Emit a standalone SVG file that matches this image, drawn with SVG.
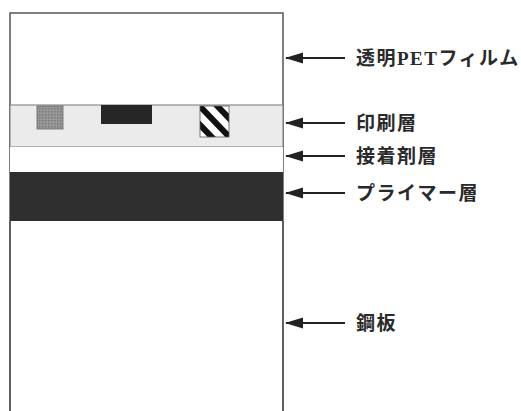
<svg xmlns="http://www.w3.org/2000/svg" width="521" height="411" viewBox="0 0 521 411">
<style>
.lbl{font-family:"Liberation Serif","Noto Sans CJK JP",serif;font-size:19px;font-weight:bold;fill:#2a2a2a;letter-spacing:1.5px;}
.arr{stroke:#222;stroke-width:2;fill:none;}
</style>
<defs>
<marker id="ah" markerWidth="18" markerHeight="12" refX="17" refY="6" orient="auto" markerUnits="userSpaceOnUse">
<path d="M0,0.5 L18,6 L0,11.5 Z" fill="#222"/>
</marker>
<pattern id="dots" width="3" height="3" patternUnits="userSpaceOnUse">
<rect width="3" height="3" fill="#999"/>
<rect width="1.5" height="1.5" fill="#777"/>
</pattern>
<clipPath id="sq"><rect x="200" y="106" width="29" height="31"/></clipPath>
</defs>
<rect width="521" height="411" fill="#fff"/>
<g id="pet">
<rect x="10" y="13" width="273" height="420" fill="#fff" stroke="#555" stroke-width="1.5"/>
</g>
<g id="print-layer">
<rect x="10" y="105" width="273" height="42" fill="#ebebeb" stroke="#777" stroke-width="1"/>
<rect x="37" y="106" width="26" height="23" fill="url(#dots)" stroke="#666" stroke-width="0.8"/>
<rect x="101" y="105" width="51" height="19" fill="#262626"/>
<g clip-path="url(#sq)">
<rect x="200" y="106" width="29" height="31" fill="#fff"/>
<path d="M190,96 L239,147 M200,88 L249,139 M180,104 L229,155" stroke="#111" stroke-width="6"/>
</g>
<rect x="200" y="106" width="29" height="31" fill="none" stroke="#555" stroke-width="0.8"/>
</g>
<g id="adhesive-layer">
<rect x="10" y="147" width="273" height="25" fill="#fff"/>
</g>
<g id="primer-layer">
<rect x="10" y="172" width="273" height="49" fill="#2f2f2f"/>
</g>
<g id="steel">
<line x1="10" y1="221" x2="10" y2="411" stroke="#555" stroke-width="1.5"/>
<line x1="283" y1="221" x2="283" y2="411" stroke="#555" stroke-width="1.5"/>
</g>
<g id="connectors">
<line class="arr" x1="345" y1="58" x2="286" y2="58" marker-end="url(#ah)"/>
<line class="arr" x1="345" y1="123" x2="286" y2="123" marker-end="url(#ah)"/>
<line class="arr" x1="345" y1="156" x2="286" y2="156" marker-end="url(#ah)"/>
<line class="arr" x1="345" y1="193" x2="286" y2="193" marker-end="url(#ah)"/>
<line class="arr" x1="345" y1="323" x2="286" y2="323" marker-end="url(#ah)"/>
</g>
<g id="labels">
<text class="lbl" x="356" y="65">透明PETフィルム</text>
<text class="lbl" x="356" y="130">印刷層</text>
<text class="lbl" x="356" y="163">接着剤層</text>
<text class="lbl" x="356" y="200">プライマー層</text>
<text class="lbl" x="356" y="330">鋼板</text>
</g>
</svg>
